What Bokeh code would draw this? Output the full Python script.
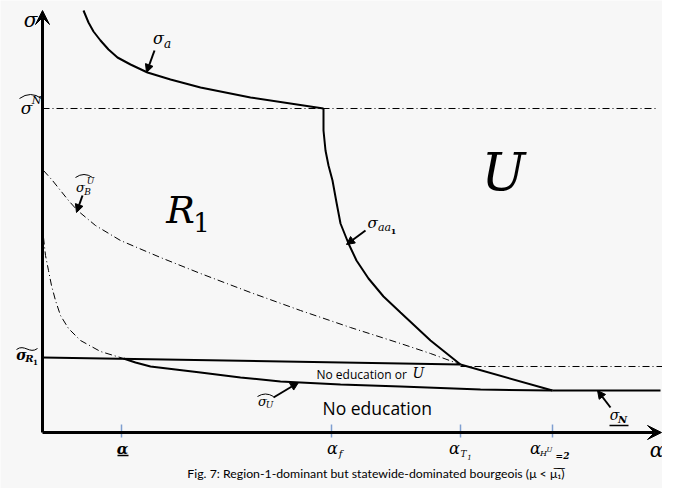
from bokeh.plotting import figure
from bokeh.models import Range1d, Label, Arrow, VeeHead, NormalHead
from bokeh.embed import file_html
from bokeh.resources import INLINE

# ---------------- data (alpha, sigma units; origin at axes crossing) ----------------
sigma_a_x = [41, 46, 51, 58, 66, 75, 88, 105, 128, 158, 208, 281]
sigma_a_y = [422, 410, 401, 392, 383, 375, 368, 360, 353, 345, 335, 324]

sigma_N_hat_level = 324          # dash-dot level  sigma^N (hat)
sigma_N_hat_xmax = 613

sigma_aa1_x = [281, 281, 283, 286, 290, 294, 298, 306, 314, 326, 341, 358, 373, 388, 403, 418]
sigma_aa1_y = [324, 302, 282, 267, 252, 230, 209, 189, 172, 154, 136, 120, 106, 92, 80, 68]

sigma_T_x = [418, 510]           # segment from alpha_T1 to alpha_H
sigma_T_y = [68, 42]

sigma_N_x = [510, 618]           # underline sigma_N
sigma_N_y = [42, 42]

sigma_R1_x = [0, 418]            # tilde sigma_R1
sigma_R1_y = [75, 68]

right_dd_x = [418, 621]          # dash-dot continuation right of alpha_T1
right_dd_y = [66, 66]

sigma_U_x = [81, 93, 108, 133, 158, 198, 238, 298, 358, 438, 510]
sigma_U_y = [74, 70, 66, 63, 60, 55, 51, 48, 46, 43, 42]

lower_dd_x = [1, 3, 6, 9, 13, 18, 26, 38, 58, 81]
lower_dd_y = [195, 177, 162, 147, 132, 117, 104, 92, 81, 74]

sigma_BU_x = [1, 10, 18, 26, 35, 53, 78, 118, 158, 208, 258, 308, 358, 388, 418]
sigma_BU_y = [262, 252, 242, 232, 222, 207, 192, 175, 159, 140, 122, 105, 89, 79, 68]

tick_x = [79, 289, 418, 510]

# ---------------- figure ----------------
OX, OY = 42, 432
def X(px): return px - OX
def Y(py): return OY - py

BG = "#f7f7f7"
p = figure(width=662, height=488, x_range=Range1d(X(0), X(662)), y_range=Range1d(Y(488), Y(0)),
           output_backend="svg", toolbar_location=None, x_axis_type=None, y_axis_type=None,
           min_border=0, background_fill_color=BG, border_fill_color=BG, outline_line_color=None)
p.grid.visible = False

DD = "7 3 1 3"
p.line(sigma_a_x, sigma_a_y, line_color="black", line_width=2)
p.line([0, sigma_N_hat_xmax], [sigma_N_hat_level, sigma_N_hat_level], line_color="black", line_width=1, line_dash=DD)
p.line(sigma_aa1_x, sigma_aa1_y, line_color="black", line_width=2)
p.line(sigma_T_x, sigma_T_y, line_color="black", line_width=2)
p.line(sigma_N_x, sigma_N_y, line_color="black", line_width=2)
p.line(sigma_R1_x, sigma_R1_y, line_color="black", line_width=2)
p.line(right_dd_x, right_dd_y, line_color="black", line_width=1, line_dash=DD)
p.line(sigma_U_x, sigma_U_y, line_color="black", line_width=2)
p.line(lower_dd_x, lower_dd_y, line_color="black", line_width=1, line_dash=DD)
p.line(sigma_BU_x, sigma_BU_y, line_color="black", line_width=1, line_dash=DD)

# ticks
p.segment(x0=tick_x, y0=[Y(437)] * 4, x1=tick_x, y1=[Y(424)] * 4, line_color="#7f9fd0", line_width=1.5)

# axes
p.add_layout(Arrow(end=VeeHead(size=14, fill_color="black", line_color="black"),
                   x_start=0, y_start=0, x_end=0, y_end=Y(10), line_width=3, line_color="black"))
p.add_layout(Arrow(end=VeeHead(size=14, fill_color="black", line_color="black"),
                   x_start=0, y_start=0, x_end=X(661), y_end=0, line_width=3, line_color="black"))

# pointer arrows
def ptr(t, h):
    p.add_layout(Arrow(end=NormalHead(size=8, fill_color="black", line_color="black"),
                       x_start=X(t[0]), y_start=Y(t[1]), x_end=X(h[0]), y_end=Y(h[1]),
                       line_width=2, line_color="black"))
ptr((154, 50), (146, 72))
ptr((365, 230), (346, 244))
ptr((82, 195), (76, 212))
ptr((273, 397), (298, 382))
ptr((610, 407), (597, 390))

SERIF = "DejaVu Serif"
SANS = "Open Sans"
def lab(px, py, text, size, font=SERIF, style="italic", align="center", color="black"):
    p.add_layout(Label(x=X(px), y=Y(py), text=text, text_font=font, text_font_size=f"{size}px",
                       text_font_style=style, text_align=align, text_baseline="middle",
                       text_color=color))

def hat(x0, x1, y, h=4):
    p.quadratic(x0=[X(x0)], y0=[Y(y)], x1=[X(x1)], y1=[Y(y)], cx=[X((x0 + x1) / 2)], cy=[Y(y - 2 * h)],
                line_color="black", line_width=1)

# sigma axis label
lab(30, 19, "σ", 20)
# sigma^N hat
lab(26, 107, "σ", 17)
lab(36, 100, "N", 11)
hat(19, 41, 98)
# sigma_a
lab(158, 38, "σ", 16)
lab(167, 43, "a", 12)
# sigma_aa1
lab(372, 222, "σ", 15)
lab(384, 227, "aa", 11)
lab(393, 231, "1", 8, style="bold")
# sigma_B^U hat
lab(80, 187, "σ", 13)
lab(87, 191, "B", 9)
lab(90, 180, "U", 9)
hat(75, 92, 177, 3)
# sigma_R1 tilde
lab(21, 354, "σ", 14, style="bold italic")
lab(29, 358, "R", 10, style="bold italic")
lab(35, 361, "1", 7, style="bold")
p.bezier(x0=[X(16)], y0=[Y(349)], x1=[X(37)], y1=[Y(348)], cx0=[X(24)], cy0=[Y(343)], cx1=[X(29)], cy1=[Y(354)],
         line_color="black", line_width=1)
# sigma_U hat
lab(262, 401, "σ", 13)
lab(269, 404, "U", 9)
hat(257, 273, 396, 2.5)
# sigma_N underline
lab(614, 414, "σ", 14)
lab(622, 419, "N", 10, style="bold italic")
p.segment(x0=[X(609)], y0=[Y(425)], x1=[X(628)], y1=[Y(425)], line_color="black", line_width=1.5)

# x tick labels
lab(122, 448, "α", 15, style="bold italic")
p.segment(x0=[X(117)], y0=[Y(455)], x1=[X(128)], y1=[Y(455)], line_color="black", line_width=1.5)
lab(332, 448, "α", 16)
lab(340, 453, "f", 10)
lab(454, 448, "α", 16)
lab(463, 453, "T", 9)
lab(469, 456, "1", 7)
lab(535, 448, "α", 16)
lab(543, 453, "H", 8)
lab(549, 449, "U", 7)
lab(562, 455, "=2", 9, style="bold italic")
lab(656, 449, "α", 20)

# regions
lab(180, 209, "R", 38)
lab(201, 222, "1", 26, style="normal")
lab(503, 171, "U", 52)
lab(316, 374, "No education or", 12, font=SANS, style="normal", align="left")
lab(418, 372, "U", 14)
lab(322, 407, "No education", 17.5, font=SANS, style="normal", align="left")

# caption
lab(377, 473, "Fig. 7: Region-1-dominant but statewide-dominated bourgeois  (μ < μ\u0305\u2081\u0305)", 12.3,
    font="Lato", style="normal")

open("out.html", "w").write(file_html(p, INLINE))
